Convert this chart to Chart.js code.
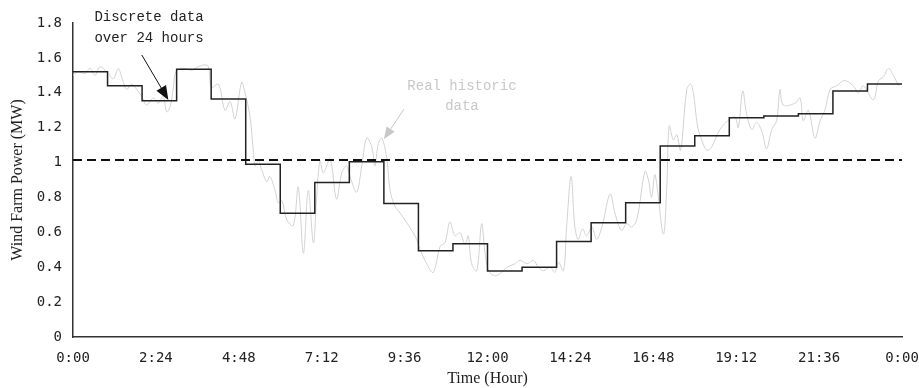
<!DOCTYPE html>
<html>
<head>
<meta charset="utf-8">
<script src="https://cdn.jsdelivr.net/npm/chart.js@4/dist/chart.umd.min.js"></script>
<style>
  html, body { margin: 0; padding: 0; background: #fff; }
  #wrap { width: 919px; height: 388px; }
</style>
</head>
<body>
<div id="wrap"><canvas id="windChart" width="919" height="388"></canvas></div>
<script>
// hourly discrete values (one per hour, 0..23)
const hourlyPower = [1.52, 1.44, 1.355, 1.535, 1.365, 0.99, 0.71, 0.885, 1.005, 0.765, 0.495, 0.535,
                     0.378, 0.40, 0.547, 0.655, 0.77, 1.095, 1.154, 1.257, 1.267, 1.28, 1.41, 1.45];

// real historic data (hour, MW)
const realHours = [0, 0.15, 0.35, 0.49, 0.64, 0.78, 1.02, 1.17, 1.31, 1.41, 1.55, 1.70, 1.84, 1.99, 2.13, 2.33,
  2.47, 2.61, 2.71, 2.81, 2.90, 2.98, 3.19, 3.44, 3.63, 3.82, 3.92, 4.01, 4.21, 4.40, 4.55, 4.69, 4.88, 4.98,
  5.12, 5.22, 5.27, 5.37, 5.46, 5.61, 5.70, 5.85, 5.94, 6.05, 6.19, 6.38, 6.52, 6.67, 6.81, 6.96, 7.05, 7.15,
  7.25, 7.44, 7.63, 7.78, 7.92, 8.02, 8.21, 8.36, 8.50, 8.65, 8.74, 8.84, 8.94, 9.08, 9.18, 9.32, 9.47, 9.61,
  9.81, 9.95, 10.05, 10.24, 10.43, 10.63, 10.77, 10.91, 11.06, 11.20, 11.35, 11.44, 11.54, 11.69, 11.83, 11.93,
  12.03, 12.22, 12.40, 12.56, 12.80, 12.94, 13.15, 13.33, 13.47, 13.62, 13.81, 13.95, 14.05, 14.20, 14.29, 14.42,
  14.53, 14.63, 14.75, 14.87, 15.02, 15.16, 15.31, 15.55, 15.69, 15.88, 16.03, 16.17, 16.32, 16.56, 16.66, 16.75,
  16.85, 17.09, 17.19, 17.26, 17.38, 17.48, 17.59, 17.77, 17.88, 17.96, 18.08, 18.20, 18.35, 18.49, 18.73, 19.02,
  19.17, 19.26, 19.39, 19.50, 19.65, 19.79, 19.94, 20.08, 20.23, 20.37, 20.47, 20.56, 20.90, 21.05, 21.14, 21.29,
  21.48, 21.63, 21.77, 21.92, 22.11, 22.33, 22.59, 22.74, 22.88, 23.17, 23.32, 23.46, 23.61, 23.75, 23.90];
const realPower = [1.50, 1.52, 1.51, 1.54, 1.50, 1.55, 1.51, 1.48, 1.54, 1.49, 1.42, 1.45, 1.42, 1.38, 1.33, 1.37,
  1.34, 1.38, 1.29, 1.32, 1.42, 1.52, 1.54, 1.53, 1.55, 1.56, 1.55, 1.43, 1.45, 1.30, 1.35, 1.25, 1.46, 1.40,
  1.27, 1.07, 0.98, 1.01, 0.96, 0.89, 0.92, 0.84, 0.77, 0.78, 0.67, 0.64, 0.86, 0.48, 0.84, 0.54, 0.79, 1.01,
  0.94, 1.02, 0.79, 0.94, 0.98, 0.92, 0.83, 0.98, 1.14, 1.09, 0.98, 1.11, 1.14, 1.03, 0.84, 0.75, 0.71, 0.67,
  0.61, 0.56, 0.50, 0.42, 0.37, 0.52, 0.54, 0.66, 0.58, 0.60, 0.53, 0.58, 0.42, 0.38, 0.65, 0.48,
  0.38, 0.35, 0.37, 0.40, 0.42, 0.44, 0.42, 0.44, 0.40, 0.38, 0.40, 0.37, 0.43, 0.38, 0.63, 0.92,
  0.63, 0.56, 0.62, 0.58, 0.63, 0.56, 0.63, 0.82, 0.71, 0.61, 0.65, 0.63, 0.67, 0.95, 0.90, 0.80,
  0.93, 0.59, 0.86, 1.21, 1.13, 1.16, 1.07, 1.42, 1.45, 1.40, 1.21, 1.13, 1.07, 1.09, 1.19, 1.25,
  1.26, 1.20, 1.41, 1.28, 1.19, 1.23, 1.18, 1.08, 1.19, 1.24, 1.42, 1.33, 1.34, 1.37, 1.24, 1.30,
  1.14, 1.24, 1.30, 1.42, 1.44, 1.47, 1.44, 1.40, 1.44, 1.36, 1.47, 1.49, 1.54, 1.50, 1.44];

const averagePower = 1.015;
const xTickLabels = ["0:00", "2:24", "4:48", "7:12", "9:36", "12:00", "14:24", "16:48", "19:12", "21:36", "0:00"];
const yTickLabels = ["0", "0.2", "0.4", "0.6", "0.8", "1", "1.2", "1.4", "1.6", "1.8"];

const stepPoints = hourlyPower.map((v, i) => ({ x: i, y: v }));
stepPoints.push({ x: 24, y: hourlyPower[hourlyPower.length - 1] });
const realPoints = realHours.map((h, i) => ({ x: h, y: realPower[i] }));

// annotations drawn on top of the plot
const annotations = {
    id: "annotations",
    afterDraw(chart) {
        const { ctx, scales: { x, y } } = chart;
        const px = h => x.getPixelForValue(h);
        const py = v => y.getPixelForValue(v);

        function arrow(x1, y1, x2, y2, color, head) {
            const ang = Math.atan2(y2 - y1, x2 - x1);
            ctx.save();
            ctx.strokeStyle = color;
            ctx.fillStyle = color;
            ctx.lineWidth = 1;
            ctx.beginPath();
            ctx.moveTo(x1, y1);
            ctx.lineTo(x2 - Math.cos(ang) * head * 0.8, y2 - Math.sin(ang) * head * 0.8);
            ctx.stroke();
            ctx.beginPath();
            ctx.moveTo(x2, y2);
            ctx.lineTo(x2 - head * Math.cos(ang - 0.38), y2 - head * Math.sin(ang - 0.38));
            ctx.lineTo(x2 - head * Math.cos(ang + 0.38), y2 - head * Math.sin(ang + 0.38));
            ctx.closePath();
            ctx.fill();
            ctx.restore();
        }

        ctx.save();
        ctx.font = "14px 'Liberation Mono', monospace";
        ctx.textAlign = "center";
        ctx.textBaseline = "middle";
        ctx.fillStyle = "#222";
        ctx.fillText("Discrete data", px(2.2), py(1.83));
        ctx.fillText("over 24 hours", px(2.2), py(1.715));
        ctx.fillStyle = "#c8c8c8";
        ctx.fillText("Real historic", px(11.26), py(1.44));
        ctx.fillText("data", px(11.26), py(1.325));
        ctx.restore();

        arrow(px(1.99), py(1.617), px(2.76), py(1.359), "#111", 15);
        arrow(px(9.58), py(1.306), px(9.0), py(1.134), "#c8c8c8", 13);
    }
};

const tickFont = { family: "'DejaVu Sans Mono', monospace", size: 14 };
const titleFont = { family: "'Liberation Serif', 'Times New Roman', serif", size: 16 };

new Chart(document.getElementById("windChart").getContext("2d"), {
    type: "line",
    data: {
        datasets: [
            {
                label: "Real historic data",
                data: realPoints,
                borderColor: "#d2d2d2",
                borderWidth: 1,
                pointRadius: 0,
                tension: 0.35,
                order: 3
            },
            {
                label: "Discrete data",
                data: stepPoints,
                borderColor: "#222",
                borderWidth: 1.5,
                pointRadius: 0,
                stepped: true,
                order: 2
            },
            {
                label: "Average",
                data: [{ x: 0, y: averagePower }, { x: 24, y: averagePower }],
                borderColor: "#111",
                borderWidth: 2,
                borderDash: [9, 5],
                pointRadius: 0,
                order: 1
            }
        ]
    },
    options: {
        responsive: false,
        animation: false,
        layout: { padding: { top: 23, right: 17, left: 0, bottom: 0 } },
        plugins: {
            legend: { display: false },
            tooltip: { enabled: false }
        },
        scales: {
            x: {
                type: "linear",
                min: 0,
                max: 24,
                afterBuildTicks(scale) {
                    scale.ticks = xTickLabels.map((_, i) => ({ value: i * 2.4 }));
                },
                afterFit(scale) {
                    scale.height = 51;
                    scale.paddingLeft = 0;
                    scale.paddingRight = 0;
                },
                ticks: {
                    callback: (v, i) => xTickLabels[i],
                    font: tickFont,
                    color: "#222",
                    padding: 8,
                    maxRotation: 0,
                    autoSkip: false
                },
                grid: { display: false, drawTicks: true, tickLength: 5, tickColor: "#333" },
                border: { color: "#333", width: 1.5 },
                title: { display: true, text: "Time (Hour)", font: titleFont, color: "#222", padding: { top: 2, bottom: 0 } }
            },
            y: {
                min: 0,
                max: 1.8,
                afterBuildTicks(scale) {
                    scale.ticks = yTickLabels.map((_, i) => ({ value: i * 0.2 }));
                },
                afterFit(scale) {
                    scale.width = 73;
                    scale.paddingTop = 0;
                    scale.paddingBottom = 0;
                },
                ticks: {
                    callback: (v, i) => yTickLabels[i],
                    font: tickFont,
                    color: "#222",
                    padding: 6,
                    autoSkip: false
                },
                grid: { display: false, drawTicks: true, tickLength: 5, tickColor: "#333" },
                border: { color: "#333", width: 1.5 },
                title: { display: true, text: "Wind Farm Power (MW)", font: titleFont, color: "#222", padding: { top: 8, bottom: 4 } }
            }
        }
    },
    plugins: [annotations]
});
</script>
</body>
</html>
